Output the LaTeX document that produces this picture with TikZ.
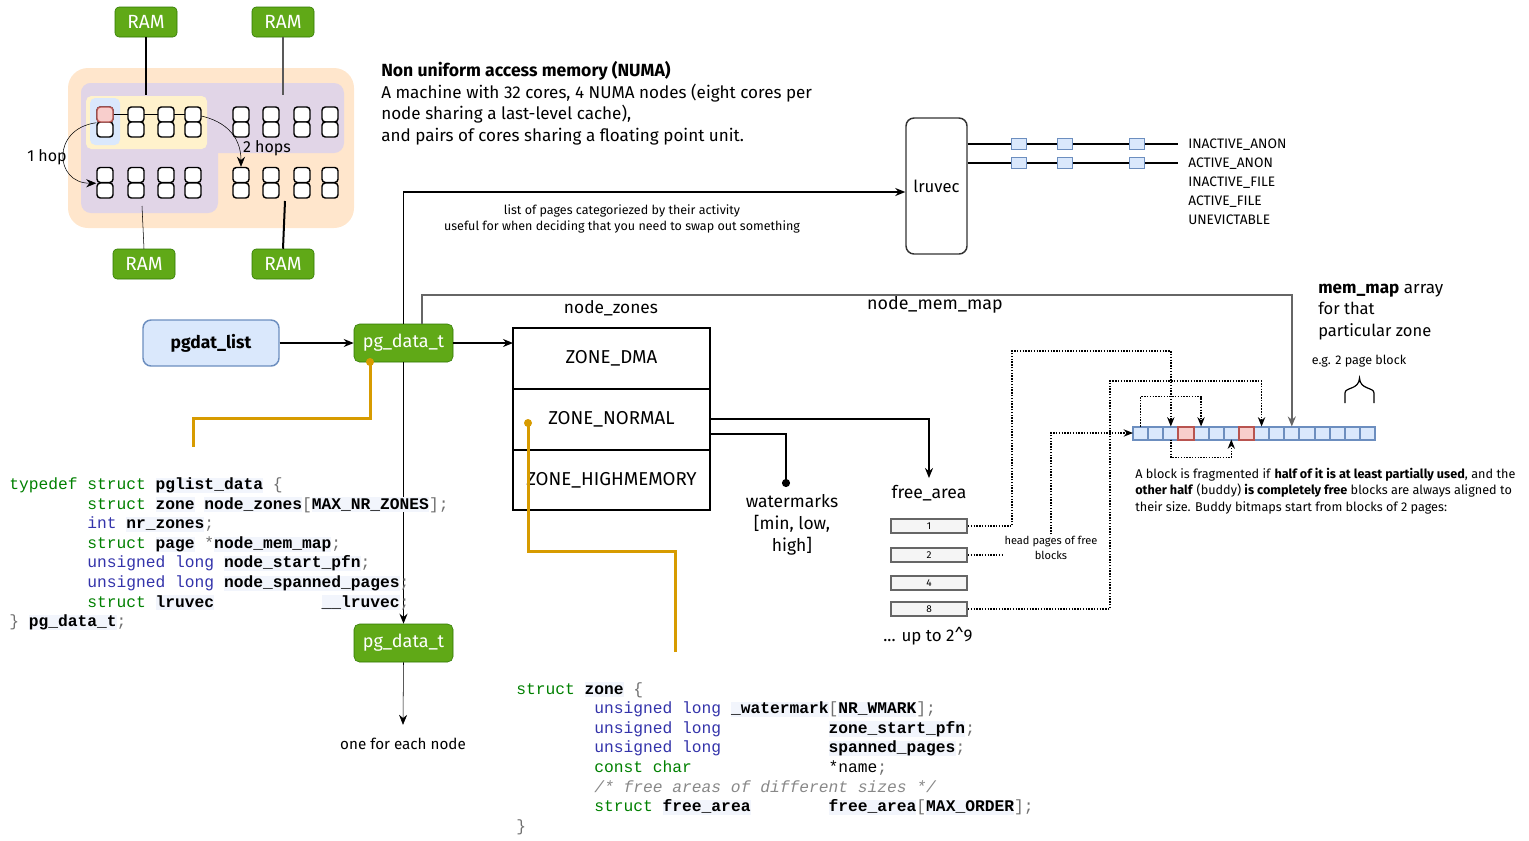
\documentclass[tikz,border=0pt]{standalone}
\usepackage{fontspec}
\setmainfont{Fira Sans}
\setmonofont{Liberation Mono}
\usetikzlibrary{arrows.meta,positioning,calc}

\definecolor{numaorange}{RGB}{255,230,204}
\definecolor{numapurple}{RGB}{225,213,231}
\definecolor{cacheyellow}{RGB}{255,242,204}
\definecolor{fpblue}{RGB}{218,232,252}
\definecolor{fpborder}{RGB}{108,142,191}
\definecolor{usedfill}{RGB}{248,206,204}
\definecolor{usedborder}{RGB}{184,84,80}
\definecolor{ramgreen}{RGB}{96,169,23}
\definecolor{ramborder}{RGB}{45,118,0}
\definecolor{linkorange}{RGB}{215,155,0}
\definecolor{kwgreen}{RGB}{0,128,0}
\definecolor{tyblue}{RGB}{51,51,170}
\definecolor{pugrey}{RGB}{112,112,112}
\definecolor{cmgrey}{RGB}{136,136,136}
\definecolor{idbg}{RGB}{242,245,252}
\definecolor{fagrey}{RGB}{245,245,245}

\pgfdeclarelayer{bg}
\pgfsetlayers{bg,main}

% code colouring
\newcommand{\ckw}[1]{\textcolor{kwgreen}{#1}}
\newcommand{\cty}[1]{\textcolor{tyblue}{#1}}
\newcommand{\cid}[1]{{\fboxsep=0pt\colorbox{idbg}{\vphantom{[}\textbf{#1}}}}
\newcommand{\cpu}[1]{\textcolor{pugrey}{#1}}
\newcommand{\ccm}[1]{\textcolor{cmgrey}{\itshape #1}}
\newcommand{\codetab}[1]{\hspace*{#1\dimexpr0.6em\relax}}

\tikzset{every picture/.style={line width=0.75pt}}
\tikzset{
  core/.style={draw, line width=1.1pt, fill=white, rounded corners=2.5pt, minimum width=12pt, minimum height=11.25pt, inner sep=0pt},
  ram/.style={draw=ramborder, fill=ramgreen, text=white, rounded corners=3pt, minimum width=46.5pt, minimum height=22.5pt, inner sep=0pt, font=\fontsize{14.3}{16}\selectfont},
  greenbox/.style={draw=ramborder, fill=ramgreen, text=white, rounded corners=4pt, minimum width=74.25pt, minimum height=28.5pt, inner sep=0pt, font=\fontsize{13.5}{15}\selectfont},
  zonebox/.style={draw, line width=1.5pt, minimum width=147.75pt, minimum height=45.5pt, inner sep=0pt, outer sep=0pt, font=\fontsize{14}{16}\selectfont},
  listsq/.style={draw=fpborder, fill=fpblue, line width=1.2pt, minimum width=11.5pt, minimum height=8.5pt, inner sep=0pt},
  pagecell/.style={draw=fpborder, fill=fpblue, line width=1.5pt, minimum width=11.34pt, minimum height=9.75pt, inner sep=0pt, outer sep=0pt},
  usedcell/.style={pagecell, draw=usedborder, fill=usedfill},
  facell/.style={draw=black!60, fill=fagrey, line width=1.5pt, minimum width=57pt, minimum height=10.5pt, inner sep=0pt, font=\fontsize{7.5}{8}\selectfont},
  arr/.style={-{Stealth[length=7.5pt,width=6pt]}},
  dotlink/.style={densely dotted, line width=1.1pt, -{Stealth[length=7pt,width=5.5pt]}},
  orangelink/.style={draw=linkorange, line width=2.25pt},
  lbl/.style={inner sep=0.75pt, font=\fontsize{12}{14}\selectfont},
  small/.style={inner sep=0.75pt, font=\fontsize{9.4}{11}\selectfont},
  code/.style={inner sep=0pt, anchor=base west, font=\ttfamily\fontsize{12.2}{14}\selectfont},
}

\begin{document}
\begin{tikzpicture}[x=0.75pt,y=0.75pt,yscale=-1,xscale=1]
\useasboundingbox (0,0) rectangle (1529,840);

%NUMA machine
\begin{pgfonlayer}{bg}
\fill[numaorange, rounded corners=15pt] (68,68) rectangle (354,228);
\fill[numapurple, rounded corners=7.5pt] (81,83) rectangle (344,153);
\fill[numapurple, rounded corners=7.5pt] (81,83) rectangle (218,213);
\fill[cacheyellow, rounded corners=4pt] (86,96) rectangle (207,149);
\fill[fpblue, rounded corners=4pt] (90,98) rectangle (120,145);
\end{pgfonlayer}

%Cores
\foreach \c/\x in {1/105,2/136,3/166,4/193,5/241,6/271,7/302,8/330}{
  \node[core] (core-1-\c-u) at (\x,114.5) {};
  \node[core] (core-1-\c-l) at (\x,129.5) {};
  \node[core] (core-2-\c-u) at (\x,175) {};
  \node[core] (core-2-\c-l) at (\x,190.5) {};
}
\node[core, fill=usedfill, draw=usedborder] (core-used) at (105,114.5) {};

%Hops
\begin{pgfonlayer}{bg}
\draw[arr] (core-used.south west) .. controls +(-45,6) and +(-42,0) .. (core-2-1-u.south west);
\draw[arr] (core-used.east) -- (core-1-4-u.center) .. controls +(30,4) and +(0,-32) .. (core-2-5-u.north);
\end{pgfonlayer}
\node[lbl, anchor=base] (hop1) at (47,161.5) {1 hop};
\node[lbl, anchor=base] (hop2) at (267,152.5) {2 hops};

%RAM
\node[ram] (ramTL) at (146,22) {RAM};
\node[ram] (ramTR) at (283,22) {RAM};
\node[ram] (ramBL) at (144,264) {RAM};
\node[ram] (ramBR) at (283,264) {RAM};
\coordinate (socketTL) at (146,95);
\coordinate (socketTR) at (283,95);
\coordinate (socketBL) at (142,206);
\coordinate (socketBR) at (285,201);
\draw[line width=1.5pt] (ramTL.south) -- (socketTL);
\draw[line width=1.1pt, black!65] (ramTR.south) -- (socketTR);
\draw (ramBL.north) -- (socketBL);
\draw[line width=1.5pt] (ramBR.north) -- (socketBR);

% Text Node
\node[lbl, anchor=base west, font=\bfseries\fontsize{13.2}{15}\selectfont] (numa1) at (380,76.5) {Non uniform access memory (NUMA)};
\node[lbl, anchor=base west, font=\fontsize{12.8}{15}\selectfont] (numa2) at (380,98) {A machine with 32 cores, 4 NUMA nodes (eight cores per};
\node[lbl, anchor=base west, font=\fontsize{12.8}{15}\selectfont] (numa3) at (380,119.5) {node sharing a last-level cache),};
\node[lbl, anchor=base west, font=\fontsize{12.8}{15}\selectfont] (numa4) at (380,141) {and pairs of cores sharing a floating point unit.};

%lruvec
\node[draw=black!80, line width=1.1pt, rounded corners=6pt, minimum width=45.75pt, minimum height=102pt, inner sep=0pt, font=\fontsize{12.5}{14}\selectfont] (lruvec) at (936.5,186) {lruvec};
\coordinate (inanonEnd) at (1178,144);
\coordinate (anonEnd) at (1178,163);
\draw[line width=1.5pt] (lruvec.east |- inanonEnd) -- (inanonEnd);
\draw[line width=1.5pt] (lruvec.east |- anonEnd) -- (anonEnd);
\foreach \x [count=\k] in {1019,1065,1137}{
  \node[listsq] (ia-\k) at (\x,144) {};
  \node[listsq] (aa-\k) at (\x,163) {};
}
\foreach \t/\y [count=\k] in {INACTIVE\_ANON/148.5,ACTIVE\_ANON/167.5,INACTIVE\_FILE/186.5,ACTIVE\_FILE/205.5,UNEVICTABLE/224.5}
  \node[inner sep=0.75pt, anchor=base west, font=\fontsize{10.3}{12}\selectfont] (lru-\k) at (1187,\y) {\t};

% Text Node
\node[small, anchor=base] (lruNote1) at (622,214.5) {list of pages categoriezed by their activity};
\node[small, anchor=base] (lruNote2) at (622,230.5) {useful for when deciding that you need to swap out something};

%pg_data_t chain
\node[draw=fpborder, fill=fpblue, line width=1.1pt, rounded corners=6pt, minimum width=102pt, minimum height=34.5pt, inner sep=0pt, font=\bfseries\fontsize{13.1}{15}\selectfont] (pgdat) at (211,343) {pgdat\_list};
\node[greenbox] (pgA) at (403.5,343) {pg\_data\_t};
\node[greenbox] (pgB) at (403.5,643) {pg\_data\_t};
\node[lbl, anchor=base, font=\fontsize{11.4}{13}\selectfont] (eachLbl) at (403,749.5) {one for each node};

%node_zones
\node[zonebox] (zDMA) at (611.5,358.5) {ZONE\_DMA};
\node[zonebox, below=0pt of zDMA] (zNORMAL) {ZONE\_NORMAL};
\node[zonebox, below=0pt of zNORMAL] (zHIGH) {ZONE\_HIGHMEMORY};
\node[lbl, anchor=base, font=\fontsize{13}{15}\selectfont] (zonesLbl) at (611,313.5) {node\_zones};
\node[lbl, anchor=base, font=\fontsize{13.4}{15}\selectfont] (memmapLbl) at (935,309.5) {node\_mem\_map};

%watermarks and free_area
\coordinate (wmDot) at (786,487);
\node[lbl, anchor=base, font=\fontsize{13.1}{15}\selectfont] (wm1) at (792,507.5) {watermarks};
\node[lbl, anchor=base, font=\fontsize{13.1}{15}\selectfont] (wm2) at (792,529.5) {[min, low,};
\node[lbl, anchor=base, font=\fontsize{13.1}{15}\selectfont] (wm3) at (792,551.5) {high]};
\node[lbl, anchor=base, font=\fontsize{13.2}{15}\selectfont] (faLbl) at (929,498.5) {free\_area};
\node[facell] (fa1) at (929,526) {1};
\node[facell] (fa2) at (929,555) {2};
\node[facell] (fa4) at (929,583) {4};
\node[facell] (fa8) at (929,609) {8};
\node[lbl, anchor=base, font=\fontsize{12.7}{15}\selectfont] (faMax) at (928,641.5) {... up to 2\textasciicircum 9};

%mem_map array
\foreach \i in {0,...,15}
  \node[pagecell] (cell-\i) at ({1140.56+15.125*\i},433) {};
\foreach \i in {3,7}
  \node[usedcell] (used-\i) at (cell-\i) {};
\draw[line width=0.9pt] (1345,403) -- (1345,393) .. controls (1345,387) and (1359,390) .. (1359.5,378) .. controls (1360,390) and (1374,387) .. (1374,393) -- (1374,403);
\node[inner sep=0.75pt, anchor=base, font=\fontsize{9.4}{11}\selectfont] (egLbl) at (1359,364.5) {e.g. 2 page block};
\node[lbl, anchor=base west, font=\fontsize{12.8}{15}\selectfont] (mm1) at (1317,293.5) {\textbf{mem\_map} array};
\node[lbl, anchor=base west, font=\fontsize{12.4}{15}\selectfont] (mm2) at (1317,314.5) {for that};
\node[lbl, anchor=base west, font=\fontsize{12.4}{15}\selectfont] (mm3) at (1317,336.5) {particular zone};
\node[inner sep=0.75pt, anchor=base west, font=\fontsize{9.5}{11}\selectfont] (frag1) at (1134,478.5) {A block is fragmented if \textbf{half of it is at least partially used}, and the};
\node[inner sep=0.75pt, anchor=base west, font=\fontsize{9.5}{11}\selectfont] (frag2) at (1134,494.5) {\textbf{other half} (buddy) \textbf{is completely free} blocks are always aligned to};
\node[inner sep=0.75pt, anchor=base west, font=\fontsize{9.5}{11}\selectfont] (frag3) at (1134,511.5) {their size. Buddy bitmaps start from blocks of 2 pages:};
\node[inner sep=0.75pt, anchor=base, font=\fontsize{8.3}{9}\selectfont] (headA) at (1051,544) {head pages of free};
\node[inner sep=0.75pt, anchor=base, font=\fontsize{8.3}{9}\selectfont] (headB) at (1051,559) {blocks};

%Connectors
\draw[arr, line width=1.1pt] (pgdat.east) -- (pgA.west);
\draw[arr, line width=1.1pt] (pgA.east) -- (pgA -| zDMA.west);
\draw[arr, line width=1.1pt] (pgA.north) |- ($(lruvec.west)+(0,6)$);
\draw[arr, line width=1.1pt] (pgA.south) -- (pgB.north);
\draw[arr] (pgB.south) -- ($(eachLbl.north)+(0,-12)$);
\draw[arr, draw=black!60, line width=1.5pt] ($(pgA.north)+(18.5,0)$) -- ++(0,-29) -| (cell-10.north);
\draw[arr, line width=1.5pt] (zNORMAL.east) -| ($(faLbl.north)+(0,-6)$);
\draw[line width=1.5pt, -{Circle[length=6pt]}] ($(zNORMAL.east)+(0,15)$) -| (wmDot);
\draw[dotlink] (fa1.east) -| (1012,351) -| (cell-2.north);
\draw[densely dotted, line width=1.1pt] (fa2.east) -- (fa2.east -| headA.west);
\draw[dotlink] (headA.north) |- (cell-0.west);
\draw[dotlink] (fa8.east) -| (1110,381) -| (cell-8.north);
\draw[dotlink] (cell-0.north) -- ++(0,-30) -| (cell-4.north);
\draw[dotlink] (cell-2.south) -- ++(0,18) -| (cell-6.south);

%Code links
\coordinate (pgLink) at (370,362);
\coordinate (codeA) at (193,447);
\coordinate (zoneLink) at (528,423);
\coordinate (codeB) at (675,652);
\draw[orangelink] (pgLink) -- ++(0,56) -| (codeA);
\draw[orangelink] (zoneLink) -- ++(0,128) -| (codeB);
\fill[linkorange] (pgLink) circle (3pt);
\fill[linkorange] (zoneLink) circle (3pt);

%pglist_data
\node[code] (pgl1) at (9,489.5) {\ckw{typedef} \ckw{struct} \cid{pglist\_data} \cpu{\{}};
\node[code] (pgl2) at (9,509.1) {\codetab{8}\ckw{struct} \cid{zone} \cid{node\_zones}\cpu{[}\cid{MAX\_NR\_ZONES}\cpu{];}};
\node[code] (pgl3) at (9,528.7) {\codetab{8}\cty{int} \cid{nr\_zones}\cpu{;}};
\node[code] (pgl4) at (9,548.3) {\codetab{8}\ckw{struct} \cid{page} \cpu{*}\cid{node\_mem\_map}\cpu{;}};
\node[code] (pgl5) at (9,567.9) {\codetab{8}\cty{unsigned long} \cid{node\_start\_pfn}\cpu{;}};
\node[code] (pgl6) at (9,587.5) {\codetab{8}\cty{unsigned long} \cid{node\_spanned\_pages}\cpu{;}};
\node[code] (pgl7) at (9,607.1) {\codetab{8}\ckw{struct} \cid{lruvec}\codetab{11}\cid{\_\_lruvec}\cpu{;}};
\node[code] (pgl8) at (9,626.7) {\cpu{\}} \cid{pg\_data\_t}\cpu{;}};

%zone
\node[code] (zn1) at (516,694) {\ckw{struct} \cid{zone} \cpu{\{}};
\node[code] (zn2) at (516,713.6) {\codetab{8}\cty{unsigned long} \cid{\_watermark}\cpu{[}\cid{NR\_WMARK}\cpu{];}};
\node[code] (zn3) at (516,733.2) {\codetab{8}\cty{unsigned long}\codetab{11}\cid{zone\_start\_pfn}\cpu{;}};
\node[code] (zn4) at (516,752.8) {\codetab{8}\cty{unsigned long}\codetab{11}\cid{spanned\_pages}\cpu{;}};
\node[code] (zn5) at (516,772.4) {\codetab{8}\ckw{const char}\codetab{14}*name\cpu{;}};
\node[code] (zn6) at (516,792) {\codetab{8}\ccm{/* free areas of different sizes */}};
\node[code] (zn7) at (516,811.6) {\codetab{8}\ckw{struct} \cid{free\_area}\codetab{8}\cid{free\_area}\cpu{[}\cid{MAX\_ORDER}\cpu{];}};
\node[code] (zn8) at (516,831.2) {\cpu{\}}};

\end{tikzpicture}
\end{document}
